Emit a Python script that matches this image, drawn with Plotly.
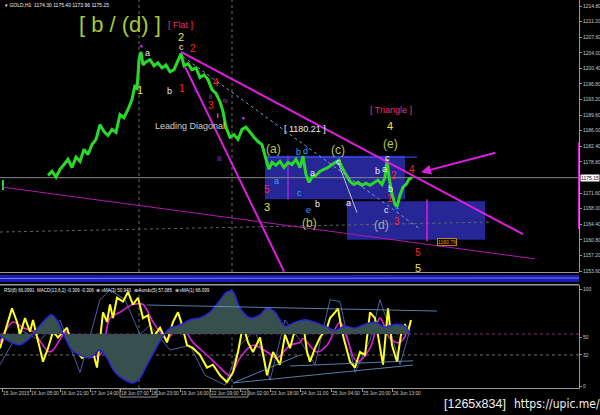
import plotly.graph_objects as go

W, H = 600, 415

# ---------------- data ----------------
# time axis: bar position along the chart
time_tick_pos = [2, 30, 60, 90, 120, 150, 180, 210, 240, 270, 300, 331, 362, 392]
time_tick_text = ["15 Jun 2015", "16 Jun 05:00", "16 Jun 21:00", "17 Jun 14:00", "18 Jun 07:00",
                  "18 Jun 23:00", "19 Jun 16:00", "22 Jun 09:00", "23 Jun 02:00", "23 Jun 18:00",
                  "24 Jun 11:00", "25 Jun 04:00", "25 Jun 20:00", "26 Jun 13:00"]

price_ticks = [1214.80, 1211.20, 1207.60, 1204.00, 1200.40, 1196.80, 1193.20, 1189.60, 1186.00,
               1182.40, 1178.80, 1171.60, 1168.00, 1164.40, 1160.80, 1157.20, 1153.60]
last_price = 1175.15

first_bar_x = [3, 3]
first_bar_hl = [1174.6, 1172.3]

price_x = [48, 52, 56, 60, 64, 68, 72, 76, 80, 84, 88, 92, 96, 100, 104, 108, 112, 116, 120, 124,
           128, 132, 135, 137, 139, 141, 143, 146, 150, 154, 158, 162, 166, 170, 174, 178, 181, 184, 188, 192,
           196, 200, 204, 208, 212, 216, 220, 223, 226, 230, 234, 238, 242, 246, 250, 254, 258, 262, 266, 269,
           272, 276, 280, 284, 288, 292, 296, 300, 303, 306, 309, 312, 316, 320, 324, 328, 332, 336, 339, 342,
           346, 350, 354, 358, 362, 366, 370, 374, 378, 382, 385, 387, 389, 392, 395, 397, 400, 403, 406, 409, 412]
price_close = [1175.7, 1176.6, 1175.3, 1177.1, 1178.2, 1179.4, 1177.5, 1179.9, 1178.9, 1181.7,
               1180.5, 1182.8, 1184.0, 1187.4, 1185.8, 1184.9, 1186.3, 1185.6, 1189.7, 1189.0,
               1190.9, 1193.2, 1196.6, 1195.5, 1202.4, 1204.2, 1201.2, 1201.9, 1202.4, 1201.0,
               1201.7, 1200.5, 1201.2, 1199.6, 1200.1, 1202.4, 1203.8, 1201.0, 1201.5, 1200.1,
               1200.5, 1198.3, 1198.9, 1197.8, 1195.5, 1194.6, 1192.7, 1190.4, 1186.8, 1184.5,
               1185.1, 1184.0, 1186.3, 1186.8, 1185.6, 1184.5, 1183.5, 1182.8, 1179.4, 1177.1,
               1178.7, 1178.0, 1178.9, 1177.5, 1178.7, 1178.2, 1179.4, 1177.5, 1180.1, 1175.9,
               1174.1, 1175.3, 1175.7, 1176.6, 1177.1, 1177.5, 1178.2, 1178.7, 1179.2, 1177.5,
               1175.9, 1174.3, 1173.6, 1174.1, 1173.4, 1173.9, 1173.4, 1174.1, 1174.6, 1173.6,
               1175.3, 1179.4, 1175.3, 1171.4, 1169.0, 1168.4, 1171.1, 1173.0, 1173.6, 1174.8, 1175.15]

# analyst objects (time, price)
upper_trend = ([181, 523], [1204.2, 1162.1])
steep_trend = ([185, 284], [1200.8, 1153.5])
base_trend = ([3, 535], [1172.96, 1156.4])
dotted_trend = ([183, 420], [1203.1, 1163.3])
gray_dotted = ([0, 490], [1162.6, 1164.9])
ca_line = ([338, 357], [1178.7, 1167.1])
box1 = ([265, 405], [1170.2, 1180.21])
box2 = ([347, 485], [1160.79, 1169.7])
box1_top_ext = ([265, 417], [1179.9, 1179.9])
box1_split = ([288, 288], [1170.2, 1180.2])
target_vline = ([427, 427], [1170.2, 1160.5])
axis_range_mark = ([579, 579], [1183.3, 1163.3])
arrow_from = (497, 1181.0)
arrow_to = (421, 1176.4)
day_separators = [139, 232]

# lower panel: MACD histogram
macd_x = [0, 10, 20, 30, 40, 47, 52, 58, 65, 72, 80, 90, 100, 107, 115, 125, 133, 140, 147, 155,
          163, 170, 180, 190, 200, 210, 220, 227, 233, 240, 250, 260, 267, 275, 285, 295, 305, 315,
          325, 335, 345, 355, 365, 375, 385, 395, 405, 410]
macd_val = [-0.04, -0.16, -0.22, -0.08, 0.18, 0.33, 0.39, 0.24, -0.08, -0.33, -0.43, -0.49, -0.33,
            -0.49, -0.78, -0.94, -1.0, -0.90, -0.63, -0.33, -0.04, 0.12, 0.18, 0.29, 0.33, 0.45, 0.69,
            0.86, 0.86, 0.53, 0.33, 0.39, 0.53, 0.45, 0.16, 0.24, 0.29, 0.24, 0.16, 0.08, 0.16, 0.12,
            0.20, 0.24, 0.14, 0.20, 0.16, 0.0]

rsi_x = [0, 7, 12, 17, 20, 25, 30, 33, 38, 43, 48, 53, 58, 67, 72, 77, 82, 87, 93, 97, 100, 103, 107,
         110, 113, 117, 123, 128, 133, 138, 143, 148, 153, 160, 167, 173, 178, 182, 187, 193, 200, 207,
         213, 220, 227, 233, 238, 243, 248, 253, 260, 267, 273, 280, 285, 290, 297, 303, 307, 310, 315,
         320, 327, 330, 335, 338, 342, 347, 350, 355, 360, 365, 370, 375, 378, 383, 388, 392, 397, 402,
         405, 408, 411]
rsi_val = [39, 63, 80, 66, 53, 70, 56, 68, 45, 25, 39, 56, 50, 60, 42, 35, 29, 32, 35, 19, 50, 76, 66,
           84, 70, 91, 87, 97, 84, 91, 70, 73, 50, 60, 45, 66, 76, 63, 42, 39, 32, 19, 22, 11, 4, 14,
           35, 63, 45, 35, 50, 11, 35, 22, 53, 39, 66, 66, 35, 25, 39, 50, 60, 70, 76, 80, 56, 35, 25,
           19, 35, 32, 76, 70, 53, 22, 80, 42, 25, 60, 63, 56, 68]

ma_x = [0, 13, 23, 33, 50, 67, 83, 100, 110, 120, 133, 143, 153, 167, 180, 193, 207, 220, 230, 240,
        253, 267, 277, 290, 300, 303, 317, 327, 340, 347, 357, 370, 380, 390, 400, 410]
ma_val = [45, 66, 60, 56, 35, 56, 32, 32, 70, 76, 84, 84, 66, 49, 63, 45, 32, 19, 11, 29, 42, 35, 29,
          42, 45, 49, 35, 42, 66, 49, 25, 39, 70, 49, 45, 63]

stoch_x = [0, 20, 40, 60, 80, 100, 110, 125, 140, 150, 170, 190, 205, 225, 240, 255, 270, 285, 300,
           315, 330, 340, 355, 370, 380, 390, 400, 410]
stoch_val = [22, 58, 47, 68, 14, 89, 99, 89, 53, 63, 37, 42, 11, 1, 42, 58, 6, 68, 47, 22, 89, 87,
             14, 47, 89, 58, 22, 58]

osc_channels = [([147, 437], [83.5, 77.3]), ([233, 413], [3.1, 21.6]), ([233, 300], [3.1, 32.0]),
                ([290, 413], [20.6, 26.0])]
osc_levels = [100, 50, 32, 0]

# ---------------- geometry helpers ----------------
XR = [0, 579]
PRICE_RANGE = [1153.37, 1216.19]
OSC_RANGE = [-2.06, 104.12]
MACD_RANGE = [-1.102, 1.0]


def py(pix):
    return 1 - pix / H


FONT = "Liberation Sans, Arial, sans-serif"

fig = go.Figure()

# price
fig.add_trace(go.Scatter(x=first_bar_x, y=first_bar_hl, mode="lines",
                         line=dict(color="#2bd92b", width=2), hoverinfo="skip"))
fig.add_trace(go.Scatter(x=price_x, y=price_close, mode="lines",
                         line=dict(color="#2bd92b", width=3), hoverinfo="skip"))

# lower panel
fig.add_trace(go.Scatter(x=macd_x, y=macd_val, xaxis="x2", yaxis="y4", mode="lines",
                         fill="tozeroy", fillcolor="rgba(55,80,78,1)",
                         line=dict(color="#2424d8", width=1.5, shape="spline"), hoverinfo="skip"))
fig.add_trace(go.Scatter(x=stoch_x, y=stoch_val, xaxis="x2", yaxis="y2", mode="lines",
                         line=dict(color="#5a78c8", width=0.8), hoverinfo="skip"))
fig.add_trace(go.Scatter(x=ma_x, y=ma_val, xaxis="x2", yaxis="y2", mode="lines",
                         line=dict(color="#e020e0", width=1.6, shape="spline"), hoverinfo="skip"))
fig.add_trace(go.Scatter(x=rsi_x, y=rsi_val, xaxis="x2", yaxis="y2", mode="lines",
                         line=dict(color="#ffff20", width=2), hoverinfo="skip"))

shapes = []


def seg(xy, color, width=1, dash="solid", xref="x", yref="y", layer="above"):
    xs, ys = xy
    shapes.append(dict(type="line", xref=xref, yref=yref, x0=xs[0], x1=xs[1], y0=ys[0], y1=ys[1],
                       line=dict(color=color, width=width, dash=dash), layer=layer))


# boxes (background objects)
for bx in (box1, box2):
    shapes.append(dict(type="rect", xref="x", yref="y", x0=bx[0][0], x1=bx[0][1], y0=bx[1][0],
                       y1=bx[1][1], fillcolor="rgb(38,38,150)", line=dict(width=0), layer="below"))
seg(box1_top_ext, "#3a5cff", 1, layer="below")
seg(box1_split, "#9a2ad8", 1.5, layer="below")

# day separators
for d in day_separators:
    shapes.append(dict(type="line", xref="x", yref="paper", x0=d, x1=d, y0=py(272), y1=1,
                       line=dict(color="#6a6a6a", width=1, dash="dot"), layer="below"))
    shapes.append(dict(type="line", xref="x", yref="paper", x0=d, x1=d, y0=py(388), y1=py(285),
                       line=dict(color="#6a6a6a", width=1, dash="dot"), layer="below"))

# current price line
seg(([0, 579], [last_price, last_price]), "#8a8a8a", 1, layer="below")
seg(gray_dotted, "#606070", 1, "dot", layer="below")
seg(dotted_trend, "#7aa0d0", 1, "dot")
seg(ca_line, "#c0c0d0", 1)
seg(upper_trend, "#e01ee0", 2)
seg(steep_trend, "#e01ee0", 2)
seg(base_trend, "#b018b0", 1)
seg(target_vline, "#e01ee0", 1.5)
seg(axis_range_mark, "#e01ee0", 2)

# lower panel lines
shapes.append(dict(type="line", xref="x2", yref="y4", x0=0, x1=579, y0=0, y1=0,
                   line=dict(color="#803080", width=1, dash="dot"), layer="below"))
shapes.append(dict(type="line", xref="x2", yref="y2", x0=0, x1=579, y0=32, y1=32,
                   line=dict(color="#707070", width=1, dash="dot"), layer="below"))
for ch in osc_channels:
    seg(ch, "#6aa0d8", 0.8, xref="x2", yref="y2")

# panel separators and strip indicator
for yy in (272.5, 284.5):
    shapes.append(dict(type="line", xref="paper", yref="paper", x0=0, x1=579 / W, y0=py(yy), y1=py(yy),
                       line=dict(color="#9a9a9a", width=1)))
shapes.append(dict(type="rect", xref="paper", yref="paper", x0=0, x1=579 / W, y0=py(282), y1=py(275),
                   fillcolor="#1c1cb0", line=dict(width=0)))
shapes.append(dict(type="line", xref="paper", yref="paper", x0=0, x1=579 / W, y0=py(278.5), y1=py(278),
                   line=dict(color="#7a7aff", width=1)))
# boxed time labels at the axis
for x0, x1 in ((120, 157), (210, 248)):
    shapes.append(dict(type="rect", xref="x2", yref="paper", x0=x0, x1=x1, y0=py(397), y1=py(389),
                       line=dict(color="#909090", width=1), fillcolor="rgba(0,0,0,0)"))
shapes.append(dict(type="line", xref="paper", yref="paper", x0=0, x1=579 / W, y0=py(285), y1=py(285),
                   line=dict(color="#9a9a9a", width=1)))

annotations = []


def txt(px_x, px_y, text, color, size, xanchor="center", family=FONT, **kw):
    d = dict(x=px_x / W, y=py(px_y), xref="paper", yref="paper", text=text, showarrow=False,
             font=dict(color=color, size=size, family=family), xanchor=xanchor, yanchor="middle")
    d.update(kw)
    annotations.append(d)


YEL = "#f0e03c"
RED = "#ff2424"
WHT = "#f0f0f0"
CYN = "#28a8ff"
PUR = "#9a34c8"
OLV = "#b8c850"

txt(3, 5, "▾ GOLD,H1  1174.30 1175.40 1173.96 1175.15", WHT, 5, xanchor="left")
txt(120, 24, "[ b / (d) ]", "#a8c83c", 22)
txt(180, 25, "[ Flat ]", "#e8307a", 9)
txt(181, 37, "2", YEL, 11)
txt(181, 47, "c", WHT, 9)
txt(193, 49, "2", RED, 10)
txt(141, 46, "●", PUR, 7)
txt(147, 53, "a", WHT, 9)
txt(140, 90, "1", YEL, 11)
txt(169, 91, "b", WHT, 9)
txt(182, 88, "1", RED, 10)
txt(195, 90, "i", PUR, 8)
txt(216, 83, "4", RED, 10)
txt(211, 96, "ii", PUR, 7)
txt(211, 105, "3", RED, 10)
txt(226, 101, "iv", PUR, 7)
txt(218, 115, "i", WHT, 7)
txt(243, 117, "●", PUR, 7)
txt(190, 126, "Leading Diagonal", "#d0d0d0", 9)
txt(220, 158, "iii", PUR, 7)
txt(305, 129, "[ 1180.21 ]", WHT, 9)
txt(391, 110, "[ Triangle ]", "#e8307a", 9)
txt(390, 126, "4", YEL, 11)
txt(390, 144, "(e)", OLV, 12)
txt(273, 149, "(a)", OLV, 12)
txt(338, 150, "(c)", OLV, 12)
txt(309, 223, "(b)", OLV, 12)
txt(381, 225, "(d)", "#a8a8a8", 12)
txt(298, 152, "b", CYN, 9)
txt(305, 151, "d", CYN, 9)
txt(276, 181, "a", CYN, 9)
txt(299, 193, "c", CYN, 9)
txt(308, 210, "e", CYN, 9)
txt(397, 208, "+", CYN, 8)
txt(267, 190, "5", RED, 10)
txt(267, 207, "3", YEL, 11)
for (a, b, t) in ((313, 173, "a"), (317, 204, "b"), (338, 162, "c"), (348, 203, "a"), (377, 171, "b"),
                  (384, 169, "a"), (387, 158, "c"), (390, 189, "b"), (386, 210, "c")):
    txt(a, b, t, WHT, 9)
for (a, b, t) in ((394, 175, "2"), (390, 198, "1"), (397, 221, "3"), (412, 169, "4"), (418, 252, "5")):
    txt(a, b, t, RED, 10)
txt(418, 268, "5", YEL, 11)
txt(437, 242, "1160.79", "#e0a020", 5, xanchor="left", bordercolor="#c08000", borderwidth=1,
    borderpad=0, bgcolor="#000000")
# current price label
annotations.append(dict(x=580 / W, y=last_price, xref="paper", yref="y", text="1175.15", showarrow=False,
                        font=dict(color="#000000", size=5, family=FONT), xanchor="left", yanchor="middle",
                        bgcolor="#ffffff", borderpad=0))
# arrow
annotations.append(dict(x=arrow_to[0], y=arrow_to[1], ax=arrow_from[0], ay=arrow_from[1], xref="x", yref="y",
                        axref="x", ayref="y", showarrow=True, arrowhead=2, arrowsize=1, arrowwidth=2,
                        arrowcolor="#e01ee0", text=""))
# indicator header
txt(2, 290, "RSI(8) 66.0991  MACD(13,6,2) -0.306 -0.306  ⊕ xMA(3) 50.940  ⊕ Aundo(5) 57.085  ⊕ xMA(1) 66.099",
    WHT, 4.5, xanchor="left")
# watermark
txt(442, 404, "[1265x834]", WHT, 12.5, xanchor="left")
txt(512, 404, "https://upic.me/", WHT, 12, xanchor="left", family="DejaVu Sans Condensed, DejaVu Sans")

fig.update_layout(
    template="none",
    width=W, height=H, margin=dict(l=0, r=0, t=0, b=0, autoexpand=False),
    paper_bgcolor="#000000", plot_bgcolor="#000000", showlegend=False,
    shapes=shapes, annotations=annotations,
    xaxis=dict(domain=[0, 579 / W], range=XR, anchor="y", visible=False, fixedrange=True,
               automargin=False),
    yaxis=dict(domain=[py(272), 1], range=PRICE_RANGE, anchor="x", side="right", showgrid=False,
               zeroline=False, showline=True, linecolor="#9a9a9a", linewidth=1, ticks="outside",
               ticklen=2, tickcolor="#9a9a9a", tickvals=price_ticks, automargin=False,
               ticktext=[f"{v:.2f}" for v in price_ticks],
               tickfont=dict(size=5, color="#c8c8c8", family=FONT)),
    xaxis2=dict(domain=[0, 579 / W], range=XR, anchor="y2", showgrid=False, zeroline=False,
                showline=True, linecolor="#9a9a9a", ticks="outside", ticklen=3, tickcolor="#9a9a9a",
                tickvals=time_tick_pos, ticktext=time_tick_text, ticklabelposition="outside right",
                tickangle=0, automargin=False,
                tickfont=dict(size=4.8, color="#c8c8c8", family=FONT)),
    yaxis2=dict(domain=[py(388), py(285)], range=OSC_RANGE, anchor="x2", side="right", showgrid=False,
                zeroline=False, showline=True, linecolor="#9a9a9a", ticks="outside", ticklen=2,
                tickcolor="#9a9a9a", tickvals=osc_levels, ticktext=[str(v) for v in osc_levels],
                automargin=False, tickfont=dict(size=5, color="#c8c8c8", family=FONT)),
    yaxis4=dict(overlaying="y2", range=MACD_RANGE, visible=False, anchor="x2"),
)

fig.write_html("out.html", config={"displayModeBar": False},
               post_script="document.body.style.margin='0';document.body.style.background='#000';"
                           "document.body.style.overflow='hidden';")
